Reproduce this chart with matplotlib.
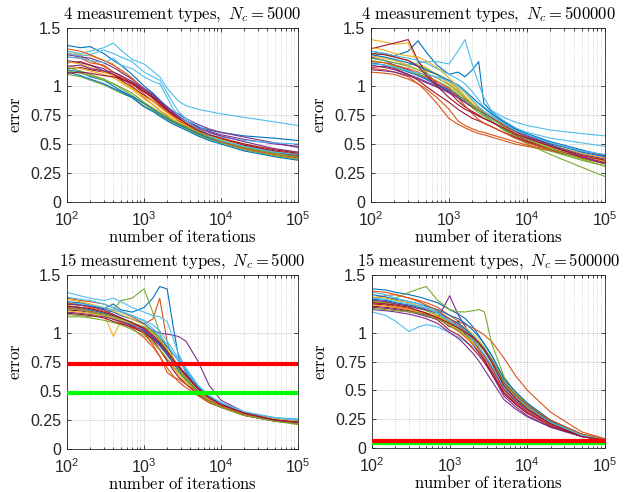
import numpy as np
import matplotlib
matplotlib.use("Agg")
import matplotlib.pyplot as plt

iterations = [100, 150, 200, 300, 400, 500, 700, 1000, 1300, 1600,
              2000, 2400, 2800, 3500, 5000, 7000, 10000, 20000, 50000, 100000]

# 4 measurement types, Nc = 5000
err_4_5000 = [
    [1.35, 1.33, 1.34, 1.28, 1.22, 1.18, 1.10, 1.00, 0.94, 0.88, 0.82, 0.77, 0.74, 0.70, 0.65, 0.62, 0.60, 0.57, 0.55, 0.53],
    [1.25, 1.24, 1.20, 1.18, 1.12, 1.09, 1.02, 0.93, 0.87, 0.82, 0.77, 0.73, 0.70, 0.67, 0.61, 0.57, 0.53, 0.47, 0.42, 0.39],
    [1.30, 1.27, 1.26, 1.22, 1.19, 1.12, 1.06, 0.97, 0.91, 0.85, 0.79, 0.75, 0.72, 0.68, 0.62, 0.58, 0.54, 0.49, 0.44, 0.42],
    [1.22, 1.20, 1.18, 1.15, 1.10, 1.06, 1.02, 0.95, 0.90, 0.85, 0.79, 0.76, 0.73, 0.70, 0.65, 0.61, 0.58, 0.54, 0.50, 0.48],
    [1.10, 1.08, 1.05, 1.01, 0.97, 0.94, 0.90, 0.83, 0.79, 0.75, 0.71, 0.68, 0.66, 0.63, 0.58, 0.54, 0.51, 0.45, 0.40, 0.37],
    [1.30, 1.28, 1.30, 1.33, 1.37, 1.31, 1.23, 1.19, 1.13, 1.08, 0.98, 0.92, 0.87, 0.83, 0.80, 0.78, 0.76, 0.73, 0.69, 0.66],
    [1.15, 1.16, 1.14, 1.12, 1.10, 1.07, 1.03, 0.96, 0.91, 0.86, 0.80, 0.75, 0.72, 0.68, 0.63, 0.58, 0.55, 0.49, 0.44, 0.41],
    [1.12, 1.09, 1.06, 1.02, 0.98, 0.95, 0.90, 0.82, 0.78, 0.74, 0.70, 0.67, 0.65, 0.62, 0.57, 0.53, 0.50, 0.44, 0.39, 0.36],
    [1.28, 1.26, 1.22, 1.17, 1.12, 1.08, 1.00, 0.90, 0.84, 0.79, 0.74, 0.70, 0.68, 0.65, 0.60, 0.56, 0.53, 0.48, 0.43, 0.40],
    [1.18, 1.15, 1.13, 1.10, 1.07, 1.03, 0.97, 0.89, 0.84, 0.79, 0.75, 0.71, 0.69, 0.66, 0.61, 0.57, 0.54, 0.48, 0.42, 0.38],
    [1.27, 1.25, 1.24, 1.20, 1.16, 1.12, 1.06, 0.98, 0.93, 0.87, 0.82, 0.78, 0.76, 0.72, 0.67, 0.63, 0.60, 0.56, 0.51, 0.47],
    [1.16, 1.13, 1.10, 1.06, 1.02, 0.98, 0.92, 0.85, 0.81, 0.77, 0.73, 0.69, 0.67, 0.64, 0.59, 0.55, 0.52, 0.46, 0.40, 0.37],
    [1.28, 1.26, 1.27, 1.31, 1.28, 1.25, 1.21, 1.12, 1.08, 1.05, 0.94, 0.85, 0.78, 0.72, 0.66, 0.60, 0.56, 0.53, 0.51, 0.50],
    [1.20, 1.21, 1.18, 1.13, 1.10, 1.05, 0.99, 0.92, 0.87, 0.83, 0.78, 0.74, 0.71, 0.68, 0.62, 0.58, 0.55, 0.49, 0.43, 0.40],
    [1.14, 1.12, 1.08, 1.05, 1.00, 0.96, 0.91, 0.85, 0.80, 0.76, 0.72, 0.69, 0.67, 0.64, 0.59, 0.55, 0.52, 0.47, 0.42, 0.39],
    [1.32, 1.30, 1.27, 1.22, 1.18, 1.14, 1.07, 0.96, 0.89, 0.84, 0.78, 0.74, 0.71, 0.67, 0.61, 0.56, 0.52, 0.46, 0.41, 0.38],
    [1.21, 1.19, 1.16, 1.12, 1.09, 1.04, 0.98, 0.91, 0.87, 0.82, 0.77, 0.73, 0.71, 0.68, 0.62, 0.58, 0.55, 0.50, 0.45, 0.43],
    [1.17, 1.18, 1.15, 1.13, 1.12, 1.09, 1.04, 0.97, 0.92, 0.87, 0.81, 0.77, 0.74, 0.70, 0.64, 0.60, 0.57, 0.52, 0.46, 0.43],
    [1.13, 1.11, 1.09, 1.05, 1.02, 0.99, 0.94, 0.86, 0.81, 0.77, 0.73, 0.70, 0.68, 0.65, 0.60, 0.56, 0.53, 0.47, 0.42, 0.39],
    [1.25, 1.24, 1.22, 1.20, 1.24, 1.18, 1.15, 1.08, 1.04, 1.02, 0.90, 0.80, 0.75, 0.70, 0.63, 0.57, 0.53, 0.48, 0.43, 0.41],
    [1.11, 1.12, 1.11, 1.09, 1.08, 1.06, 1.02, 0.95, 0.90, 0.85, 0.79, 0.75, 0.72, 0.68, 0.62, 0.58, 0.55, 0.50, 0.45, 0.42],
]

# 4 measurement types, Nc = 500000
err_4_500000 = [
    [1.30, 1.28, 1.26, 1.30, 1.39, 1.30, 1.18, 1.10, 1.12, 1.08, 1.14, 1.21, 0.85, 0.78, 0.70, 0.64, 0.59, 0.52, 0.45, 0.40],
    [1.15, 1.14, 1.12, 1.08, 1.02, 0.96, 0.85, 0.72, 0.67, 0.64, 0.61, 0.59, 0.58, 0.56, 0.53, 0.50, 0.48, 0.44, 0.38, 0.34],
    [1.40, 1.38, 1.36, 1.37, 1.20, 1.16, 1.10, 1.02, 0.96, 0.90, 0.84, 0.80, 0.77, 0.73, 0.66, 0.61, 0.56, 0.49, 0.42, 0.38],
    [1.25, 1.22, 1.18, 1.14, 1.10, 1.07, 1.02, 0.97, 0.92, 0.88, 0.84, 0.81, 0.78, 0.74, 0.68, 0.62, 0.57, 0.49, 0.41, 0.37],
    [1.28, 1.27, 1.25, 1.22, 1.18, 1.15, 1.10, 1.04, 0.98, 0.91, 0.84, 0.79, 0.75, 0.70, 0.62, 0.56, 0.50, 0.41, 0.30, 0.22],
    [1.24, 1.22, 1.20, 1.18, 1.20, 1.21, 1.21, 1.19, 1.30, 1.40, 1.18, 1.02, 0.90, 0.79, 0.73, 0.69, 0.66, 0.62, 0.59, 0.57],
    [1.32, 1.35, 1.37, 1.40, 1.22, 1.12, 1.02, 0.95, 0.87, 0.82, 0.78, 0.75, 0.72, 0.69, 0.63, 0.58, 0.53, 0.46, 0.39, 0.34],
    [1.20, 1.18, 1.16, 1.12, 1.09, 1.06, 1.01, 0.96, 0.91, 0.86, 0.82, 0.79, 0.76, 0.72, 0.66, 0.61, 0.56, 0.49, 0.40, 0.35],
    [1.12, 1.11, 1.10, 1.06, 1.02, 0.98, 0.90, 0.80, 0.70, 0.66, 0.63, 0.61, 0.60, 0.58, 0.55, 0.52, 0.49, 0.45, 0.40, 0.36],
    [1.26, 1.24, 1.22, 1.18, 1.14, 1.13, 1.10, 1.04, 0.97, 0.91, 0.85, 0.80, 0.77, 0.73, 0.66, 0.60, 0.55, 0.47, 0.40, 0.36],
    [1.18, 1.16, 1.14, 1.10, 1.07, 1.04, 1.00, 0.95, 0.90, 0.86, 0.82, 0.79, 0.77, 0.73, 0.67, 0.62, 0.57, 0.50, 0.44, 0.40],
    [1.22, 1.20, 1.17, 1.13, 1.10, 1.08, 1.04, 0.99, 0.93, 0.87, 0.81, 0.77, 0.74, 0.70, 0.63, 0.57, 0.52, 0.44, 0.36, 0.31],
    [1.30, 1.28, 1.26, 1.24, 1.22, 1.20, 1.15, 1.10, 1.06, 1.02, 0.95, 0.88, 0.82, 0.77, 0.70, 0.64, 0.60, 0.55, 0.51, 0.48],
    [1.16, 1.17, 1.15, 1.10, 1.05, 1.00, 0.93, 0.86, 0.80, 0.76, 0.72, 0.70, 0.68, 0.65, 0.60, 0.56, 0.52, 0.45, 0.38, 0.33],
    [1.27, 1.25, 1.23, 1.20, 1.17, 1.14, 1.10, 1.05, 1.01, 0.96, 0.90, 0.85, 0.81, 0.76, 0.69, 0.63, 0.58, 0.51, 0.43, 0.39],
    [1.21, 1.20, 1.18, 1.15, 1.12, 1.09, 1.04, 0.98, 0.90, 0.83, 0.76, 0.71, 0.68, 0.65, 0.60, 0.55, 0.51, 0.45, 0.38, 0.33],
    [1.33, 1.31, 1.28, 1.26, 1.25, 1.22, 1.16, 1.07, 1.00, 0.94, 0.87, 0.82, 0.78, 0.74, 0.67, 0.61, 0.56, 0.48, 0.40, 0.35],
    [1.14, 1.13, 1.12, 1.09, 1.06, 1.03, 0.99, 0.94, 0.90, 0.86, 0.82, 0.79, 0.76, 0.72, 0.66, 0.61, 0.56, 0.48, 0.39, 0.33],
    [1.24, 1.22, 1.20, 1.17, 1.14, 1.11, 1.07, 1.01, 0.95, 0.89, 0.83, 0.79, 0.76, 0.72, 0.65, 0.59, 0.54, 0.46, 0.37, 0.31],
    [1.19, 1.18, 1.16, 1.13, 1.11, 1.10, 1.08, 1.04, 1.00, 0.95, 0.88, 0.82, 0.78, 0.74, 0.68, 0.62, 0.58, 0.51, 0.44, 0.41],
    [1.28, 1.27, 1.25, 1.22, 1.17, 1.10, 1.00, 0.90, 0.84, 0.80, 0.77, 0.74, 0.72, 0.69, 0.64, 0.59, 0.55, 0.48, 0.40, 0.36],
]

# 15 measurement types, Nc = 5000
err_15_5000 = [
    [1.25, 1.24, 1.23, 1.21, 1.25, 1.20, 1.18, 1.22, 1.30, 1.40, 1.38, 1.05, 0.80, 0.66, 0.52, 0.43, 0.37, 0.30, 0.25, 0.23],
    [1.30, 1.28, 1.27, 1.25, 1.22, 1.18, 1.14, 1.08, 1.12, 1.30, 0.92, 0.78, 0.70, 0.61, 0.49, 0.41, 0.36, 0.29, 0.24, 0.22],
    [1.24, 1.22, 1.21, 1.17, 0.97, 1.10, 1.07, 1.00, 0.92, 0.85, 0.76, 0.70, 0.64, 0.57, 0.48, 0.41, 0.36, 0.30, 0.25, 0.23],
    [1.18, 1.17, 1.16, 1.14, 1.12, 1.10, 1.08, 1.05, 1.02, 1.00, 0.99, 0.98, 0.97, 0.93, 0.76, 0.55, 0.42, 0.32, 0.26, 0.24],
    [1.16, 1.15, 1.14, 1.16, 1.20, 1.28, 1.30, 1.38, 1.18, 1.00, 0.86, 0.76, 0.70, 0.62, 0.51, 0.43, 0.37, 0.30, 0.25, 0.22],
    [1.35, 1.32, 1.30, 1.28, 1.30, 1.27, 1.22, 1.18, 1.15, 1.14, 1.10, 0.95, 0.82, 0.70, 0.55, 0.45, 0.39, 0.31, 0.26, 0.25],
    [1.20, 1.19, 1.18, 1.15, 1.12, 1.10, 1.06, 1.01, 0.94, 0.86, 0.76, 0.68, 0.62, 0.56, 0.47, 0.40, 0.36, 0.29, 0.24, 0.22],
    [1.27, 1.26, 1.24, 1.21, 1.18, 1.15, 1.12, 1.08, 1.02, 0.96, 0.88, 0.82, 0.76, 0.68, 0.54, 0.45, 0.39, 0.31, 0.26, 0.24],
    [1.22, 1.21, 1.19, 1.16, 1.12, 1.09, 1.04, 0.96, 0.88, 0.80, 0.70, 0.63, 0.58, 0.53, 0.46, 0.40, 0.36, 0.29, 0.24, 0.22],
    [1.29, 1.27, 1.25, 1.22, 1.19, 1.16, 1.12, 1.07, 1.01, 0.95, 0.86, 0.78, 0.72, 0.64, 0.52, 0.44, 0.38, 0.31, 0.26, 0.24],
    [1.21, 1.20, 1.18, 1.15, 1.12, 1.10, 1.06, 1.01, 0.95, 0.89, 0.81, 0.74, 0.68, 0.60, 0.50, 0.42, 0.37, 0.30, 0.25, 0.23],
    [1.14, 1.14, 1.13, 1.11, 1.09, 1.07, 1.03, 0.98, 0.92, 0.86, 0.78, 0.71, 0.66, 0.59, 0.49, 0.42, 0.37, 0.30, 0.25, 0.22],
    [1.26, 1.25, 1.24, 1.22, 1.20, 1.18, 1.15, 1.11, 1.07, 1.02, 0.93, 0.85, 0.78, 0.69, 0.55, 0.46, 0.40, 0.32, 0.27, 0.26],
    [1.17, 1.16, 1.15, 1.13, 1.10, 1.08, 1.05, 1.00, 0.95, 0.90, 0.83, 0.77, 0.72, 0.64, 0.52, 0.43, 0.38, 0.31, 0.25, 0.23],
    [1.23, 1.22, 1.20, 1.17, 1.14, 1.11, 1.07, 1.02, 0.96, 0.90, 0.82, 0.74, 0.68, 0.60, 0.50, 0.43, 0.38, 0.31, 0.26, 0.24],
    [1.26, 1.24, 1.22, 1.19, 1.16, 1.13, 1.08, 1.00, 0.90, 0.80, 0.66, 0.62, 0.60, 0.56, 0.49, 0.42, 0.37, 0.30, 0.25, 0.23],
    [1.19, 1.18, 1.17, 1.15, 1.13, 1.11, 1.08, 1.04, 0.99, 0.93, 0.85, 0.77, 0.70, 0.62, 0.51, 0.43, 0.38, 0.31, 0.26, 0.24],
    [1.25, 1.24, 1.23, 1.20, 1.16, 1.13, 1.09, 1.03, 0.97, 0.91, 0.83, 0.76, 0.71, 0.64, 0.53, 0.45, 0.39, 0.31, 0.25, 0.23],
    [1.21, 1.20, 1.18, 1.16, 1.14, 1.12, 1.09, 1.05, 1.00, 0.94, 0.85, 0.76, 0.69, 0.60, 0.49, 0.41, 0.36, 0.29, 0.24, 0.21],
    [1.31, 1.29, 1.28, 1.25, 1.22, 1.19, 1.15, 1.10, 1.04, 0.98, 0.90, 0.82, 0.76, 0.68, 0.55, 0.46, 0.40, 0.32, 0.27, 0.25],
    [1.23, 1.22, 1.21, 1.18, 1.15, 1.13, 1.09, 1.04, 0.98, 0.92, 0.84, 0.77, 0.71, 0.63, 0.52, 0.44, 0.38, 0.31, 0.25, 0.23],
]

# 15 measurement types, Nc = 500000
err_15_500000 = [
    [1.38, 1.37, 1.35, 1.33, 1.31, 1.29, 1.26, 1.20, 1.16, 1.12, 1.05, 0.97, 0.90, 0.80, 0.60, 0.48, 0.38, 0.24, 0.12, 0.07],
    [1.30, 1.32, 1.33, 1.30, 1.28, 1.26, 1.22, 1.15, 1.10, 1.07, 1.04, 1.01, 0.98, 0.92, 0.78, 0.63, 0.50, 0.31, 0.14, 0.08],
    [1.28, 1.27, 1.25, 1.23, 1.24, 1.20, 1.15, 1.08, 1.03, 0.98, 0.92, 0.86, 0.81, 0.72, 0.54, 0.44, 0.35, 0.22, 0.11, 0.07],
    [1.22, 1.21, 1.20, 1.18, 1.16, 1.14, 1.12, 1.32, 1.15, 1.05, 0.95, 0.85, 0.76, 0.64, 0.45, 0.36, 0.28, 0.18, 0.10, 0.07],
    [1.24, 1.26, 1.30, 1.35, 1.38, 1.40, 1.28, 1.20, 1.18, 1.18, 1.19, 1.20, 1.18, 0.90, 0.62, 0.48, 0.38, 0.24, 0.12, 0.07],
    [1.18, 1.15, 1.10, 1.01, 1.05, 1.07, 1.05, 1.00, 0.96, 0.92, 0.88, 0.83, 0.78, 0.70, 0.52, 0.42, 0.34, 0.21, 0.11, 0.07],
    [1.25, 1.24, 1.22, 1.20, 1.18, 1.16, 1.13, 1.05, 1.10, 0.98, 0.90, 0.82, 0.76, 0.66, 0.48, 0.39, 0.31, 0.20, 0.10, 0.07],
    [1.33, 1.31, 1.29, 1.27, 1.25, 1.23, 1.20, 1.15, 1.12, 1.08, 1.02, 0.96, 0.90, 0.80, 0.60, 0.49, 0.39, 0.24, 0.12, 0.07],
    [1.26, 1.25, 1.23, 1.21, 1.19, 1.17, 1.13, 1.06, 1.01, 0.96, 0.90, 0.84, 0.78, 0.68, 0.50, 0.40, 0.32, 0.20, 0.10, 0.07],
    [1.31, 1.30, 1.28, 1.26, 1.23, 1.21, 1.18, 1.12, 1.08, 1.04, 0.99, 0.93, 0.87, 0.77, 0.58, 0.47, 0.37, 0.23, 0.11, 0.07],
    [1.20, 1.19, 1.18, 1.16, 1.14, 1.12, 1.08, 1.00, 0.95, 0.89, 0.82, 0.75, 0.68, 0.58, 0.42, 0.34, 0.27, 0.18, 0.10, 0.06],
    [1.27, 1.26, 1.25, 1.23, 1.21, 1.19, 1.15, 1.09, 1.04, 1.00, 0.95, 0.90, 0.85, 0.76, 0.57, 0.46, 0.36, 0.22, 0.11, 0.07],
    [1.35, 1.33, 1.30, 1.27, 1.25, 1.22, 1.18, 1.12, 1.07, 1.02, 0.96, 0.90, 0.85, 0.75, 0.56, 0.45, 0.36, 0.23, 0.11, 0.07],
    [1.23, 1.22, 1.21, 1.19, 1.17, 1.15, 1.11, 1.02, 0.98, 0.93, 0.86, 0.80, 0.74, 0.64, 0.47, 0.38, 0.30, 0.19, 0.10, 0.07],
    [1.29, 1.28, 1.26, 1.24, 1.22, 1.20, 1.17, 1.12, 1.08, 1.03, 0.97, 0.91, 0.86, 0.76, 0.57, 0.46, 0.37, 0.23, 0.11, 0.07],
    [1.36, 1.35, 1.33, 1.30, 1.27, 1.24, 1.19, 1.12, 1.06, 1.01, 0.95, 0.89, 0.84, 0.75, 0.56, 0.46, 0.37, 0.24, 0.12, 0.08],
    [1.24, 1.23, 1.22, 1.20, 1.18, 1.17, 1.14, 1.07, 1.02, 0.97, 0.91, 0.85, 0.80, 0.71, 0.53, 0.43, 0.34, 0.21, 0.11, 0.07],
    [1.28, 1.27, 1.25, 1.23, 1.21, 1.20, 1.17, 1.10, 1.05, 1.00, 0.93, 0.86, 0.80, 0.70, 0.51, 0.41, 0.33, 0.21, 0.10, 0.07],
    [1.21, 1.20, 1.19, 1.18, 1.17, 1.15, 1.12, 1.06, 1.02, 0.98, 0.94, 0.89, 0.84, 0.74, 0.55, 0.44, 0.35, 0.22, 0.11, 0.07],
    [1.30, 1.29, 1.27, 1.25, 1.23, 1.21, 1.17, 1.10, 1.05, 1.00, 0.93, 0.87, 0.81, 0.71, 0.53, 0.43, 0.34, 0.22, 0.11, 0.07],
    [1.26, 1.25, 1.24, 1.22, 1.19, 1.17, 1.13, 1.08, 1.04, 1.00, 0.96, 0.91, 0.85, 0.74, 0.54, 0.43, 0.34, 0.21, 0.10, 0.07],
]

titles = ["4\\ measurement\\ types,", "4\\ measurement\\ types,",
          "15\\ measurement\\ types,", "15\\ measurement\\ types,"]
nc_values = ["5000", "500000", "5000", "500000"]
# reference levels (red, green) drawn in the 15-type panels
ref_red = [None, None, 0.737, 0.062]
ref_green = [None, None, 0.484, 0.045]

line_colors = ["#0072BD", "#D95319", "#EDB120", "#7E2F8E", "#77AC30", "#4DBEEE", "#A2142F"]
panels = [err_4_5000, err_4_500000, err_15_5000, err_15_500000]

plt.rcParams["font.family"] = ["Liberation Sans", "DejaVu Sans"]
plt.rcParams["mathtext.fontset"] = "cm"

W, H = 632, 492
# axes boxes in pixels: left, top, right, bottom
boxes = [(67, 28, 298, 202), (371, 28, 605, 202),
         (67, 275, 298, 449), (372, 275, 605, 448)]

fig = plt.figure(figsize=(W / 100, H / 100), dpi=100)
axc = "#262626"

for k, errs in enumerate(panels):
    l, t, r, b = boxes[k]
    ax = fig.add_axes([l / W, 1 - b / H, (r - l) / W, (b - t) / H])
    for i, e in enumerate(errs):
        ax.plot(iterations, e, color=line_colors[i % 7], lw=0.8)
    if ref_red[k] is not None:
        ax.axhline(ref_green[k], color=(0, 1, 0), lw=3.0, zorder=5)
        ax.axhline(ref_red[k], color=(1, 0, 0), lw=3.0, zorder=6)
    ax.set_xscale("log")
    ax.set_xlim(100, 100000)
    ax.set_ylim(0, 1.5)
    ax.set_yticks([0, 0.25, 0.5, 0.75, 1, 1.5])
    ax.set_yticklabels(["0", "0.25", "0.5", "0.75", "1", "1.5"])
    ax.grid(True, which="major", color=axc, alpha=0.15, lw=0.6, ls="-")
    ax.grid(True, which="minor", axis="x", color=axc, alpha=0.25, lw=0.6, ls=":")
    ax.set_axisbelow(True)
    ax.tick_params(which="both", direction="in", top=True, right=True,
                   colors=axc, labelsize=11.5, width=0.6)
    ax.tick_params(which="major", length=3)
    ax.tick_params(which="minor", length=1.8)
    ax.tick_params(axis="x", which="major", pad=6)
    ax.tick_params(axis="y", which="major", pad=4)
    for s in ax.spines.values():
        s.set_color(axc)
        s.set_linewidth(0.6)
    ax.set_title(r"$\mathrm{" + titles[k] + r"}\ N_c = " + nc_values[k] + "$",
                 fontsize=12, pad=7, color="black")
    ax.set_xlabel(r"$\mathrm{number\ of\ iterations}$", fontsize=12, labelpad=-1)
    ax.set_ylabel(r"$\mathrm{error}$", fontsize=12, labelpad=5)

fig.savefig("out.png", dpi=100)
